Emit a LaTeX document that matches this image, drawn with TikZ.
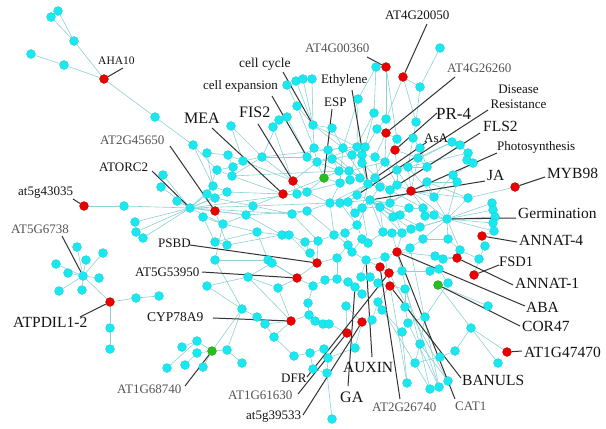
\documentclass[tikz,border=0pt]{standalone}
\usepackage{fontspec}
\setmainfont{Liberation Serif}
\definecolor{cyn}{RGB}{25,232,240}
\definecolor{edg}{RGB}{140,210,212}
\definecolor{rd}{RGB}{235,0,0}
\definecolor{gr}{RGB}{40,190,30}
\definecolor{lab}{RGB}{20,20,20}
\definecolor{labg}{RGB}{85,85,85}
\pgfdeclarelayer{bg}
\pgfdeclarelayer{mid}
\pgfsetlayers{bg,mid,main}
\tikzset{
 cy/.style={circle,fill=cyn,draw=cyn!85!black,line width=0.2pt,minimum size=9pt,inner sep=0pt},
 rn/.style={cy,fill=rd,draw=rd!70!black},
 gn/.style={cy,fill=gr,draw=gr!70!black},
 ed/.style={draw=edg,line width=0.6pt},
 ld/.style={draw=black!80,line width=1pt},
 sm/.style={font=\fontsize{13}{13}\selectfont,text=lab,inner sep=0pt,anchor=west},
 lg/.style={font=\fontsize{15.5}{15.5}\selectfont,text=lab,inner sep=0pt,anchor=west},
 gy/.style={text=labg},
}
\begin{document}
\begin{tikzpicture}[x=1pt,y=-1pt]
\useasboundingbox (0,0) rectangle (606,429);
\begin{pgfonlayer}{bg}
\fill[white] (0,0) rectangle (606,429);
\end{pgfonlayer}
% cyan nodes
\foreach \x/\y in {58/11, 51/17, 74/41, 31/54, 64/65, 155/117, 193/145,
163/175, 161/187, 177/201, 135/222, 136/232, 143/238, 124/206, 190/208,
83/276, 77/247, 103/253, 86/260, 56/264, 68/273, 99/278, 59/291, 82/290,
136/298, 159/296, 110/328, 110/349,
197/341, 197/353, 182/347, 185/365, 167/368, 203/367,
296/81, 303/79, 312/79, 287/85, 297/106, 287/117, 279/120, 273/127, 231/126, 313/125, 332/128,
376/67, 358/99, 374/113, 386/119, 377/129, 420/87, 440/48, 416/122, 413/138, 420/148, 397/139, 452/142, 460/145, 468/153, 467/160, 473/163, 453/175, 457/182,
207/153, 228/155, 243/161, 262/157, 233/167, 217/170, 232/176, 213/186, 227/192, 207/194, 215/198, 253/206, 246/215, 203/217, 223/224, 257/232, 292/214, 307/211, 297/194, 307/192, 215/242, 227/245, 282/235, 289/235, 215/260, 268/260, 272/263, 248/277, 207/286, 278/288,
314/148, 328/150, 343/148, 357/147, 365/147, 307/157, 317/162, 332/159, 352/155, 362/155, 375/157, 385/162, 362/163, 339/171, 349/171, 397/170, 408/167, 427/167, 418/158, 340/183, 350/180, 360/178, 368/184, 375/178, 380/187, 390/190, 397/185, 427/182, 434/197, 330/203, 340/203, 348/202, 357/195, 370/200, 390/203, 380/207, 362/208, 423/208, 434/215, 409/208, 400/215, 355/213, 393/217, 425/216, 447/219,
305/242, 318/241, 310/253, 334/235, 345/233, 357/225, 348/245, 352/252, 362/239, 368/243, 383/232, 392/233, 402/233, 411/229, 420/227, 423/239, 410/248, 435/256, 443/259, 430/271, 439/269, 448/283, 366/260, 385/257, 337/258, 313/286, 325/280, 337/279, 348/282, 355/287, 361/277, 370/277, 378/283, 362/294, 405/289, 402/271, 308/303, 346/306, 309/315, 315/321, 323/324, 329/324, 378/302, 382/310, 408/323, 425/317, 405/307,
242/309, 257/317, 265/324, 274/337, 227/350, 242/363, 294/356, 310/353, 324/349, 355/348, 328/358, 313/369, 327/373, 332/419, 372/320,
468/198, 492/203, 493/210, 495/217, 493/223, 494/231, 485/246, 479/259, 460/250, 448/239,
488/306, 471/328, 498/363, 455/351, 440/357, 415/363, 420/344, 402/332, 407/383, 448/381, 439/387, 430/389}
  \node[cy] (n\x-\y) at (\x,\y) {};
% red nodes
\foreach \x/\y in {104/79, 403/77, 386/67, 386/133, 395/150, 293/181, 283/194, 215/211, 84/206, 110/302, 317/263, 297/278, 291/321, 347/333, 362/322, 380/267, 389/273, 390/286, 397/252, 411/191, 515/187, 482/236, 457/258, 474/275, 507/352}
  \node[rn] (n\x-\y) at (\x,\y) {};
% green nodes
\foreach \x/\y in {324/178, 212/351, 438/285}
  \node[gn] (n\x-\y) at (\x,\y) {};
% edges
\begin{pgfonlayer}{bg}
\foreach \a/\b in {58-11/74-41, 51-17/74-41, 74-41/104-79, 31-54/64-65, 64-65/104-79, 104-79/155-117, 155-117/193-145, 193-145/217-170, 193-145/213-186,
84-206/124-206, 124-206/190-208,
190-208/163-175, 190-208/161-187, 190-208/177-201, 190-208/135-222, 190-208/136-232, 190-208/143-238, 190-208/213-186, 190-208/207-194, 190-208/227-192, 190-208/215-211, 190-208/253-206, 190-208/246-215, 190-208/292-214, 190-208/297-194, 190-208/223-224, 190-208/215-198,
83-276/77-247, 83-276/103-253, 83-276/86-260, 83-276/56-264, 83-276/68-273, 83-276/99-278, 83-276/59-291, 83-276/82-290, 83-276/110-302,
110-302/136-298, 136-298/159-296, 110-302/110-328, 110-328/110-349,
212-351/197-341, 212-351/197-353, 197-341/182-347, 197-341/167-368, 197-353/185-365, 212-351/203-367, 212-351/242-309, 212-351/227-350,
296-81/313-125, 303-79/313-125, 312-79/313-125, 287-85/297-106, 297-106/313-125, 297-106/314-148, 287-117/307-157, 279-120/262-157, 273-127/297-194, 231-126/262-157, 231-126/243-161, 313-125/314-148, 313-125/343-148, 313-125/357-147, 332-128/343-148, 332-128/313-125,
376-67/374-113, 376-67/358-99, 386-67/386-119, 386-67/397-139, 403-77/420-87, 420-87/440-48, 403-77/416-122, 420-87/416-122, 403-77/386-119, 358-99/357-147, 358-99/343-148, 374-113/365-147, 374-113/352-155, 386-119/377-129, 377-129/362-155, 386-133/375-157, 386-133/397-139, 386-133/385-162, 416-122/413-138, 413-138/420-148, 413-138/408-167, 397-139/385-162, 395-150/418-158, 395-150/397-170, 420-148/427-167, 452-142/460-145, 460-145/468-153, 468-153/467-160, 467-160/473-163, 452-142/418-158, 460-145/427-167, 473-163/453-175, 453-175/457-182, 457-182/427-182, 468-153/408-167, 452-142/397-170,
207-153/228-155, 228-155/243-161, 243-161/262-157, 262-157/307-157, 233-167/217-170, 217-170/232-176, 232-176/262-157, 233-167/243-161, 213-186/227-192, 207-194/215-198, 227-192/283-194, 215-198/253-206, 253-206/292-214, 246-215/223-224, 203-217/223-224, 223-224/257-232, 257-232/282-235, 246-215/307-211, 207-153/213-186, 228-155/233-167, 262-157/293-181, 293-181/307-192, 283-194/297-194, 283-194/253-206, 293-181/317-162, 232-176/283-194, 243-161/293-181, 217-170/207-194, 215-242/227-245, 227-245/282-235, 215-242/257-232, 215-260/268-260, 268-260/272-263, 272-263/297-278, 248-277/278-288, 207-286/248-277, 203-217/215-242, 215-211/246-215, 215-211/227-245, 223-224/215-260, 257-232/268-260, 248-277/272-263, 207-286/242-309,
314-148/328-150, 328-150/343-148, 343-148/357-147, 357-147/365-147, 314-148/317-162, 317-162/332-159, 332-159/352-155, 352-155/362-155, 362-155/375-157, 375-157/385-162, 307-157/317-162, 317-162/339-171, 332-159/349-171, 339-171/349-171, 349-171/360-178, 362-163/368-184, 362-155/362-163, 385-162/397-170, 397-170/408-167, 408-167/427-167, 418-158/427-167, 340-183/350-180, 350-180/360-178, 360-178/368-184, 368-184/380-187, 380-187/390-190, 390-190/397-185, 397-185/411-191, 411-191/427-182, 427-182/434-197, 411-191/434-197, 411-191/408-167, 411-191/397-170, 411-191/390-203, 411-191/423-208, 411-191/447-219, 411-191/468-198, 411-191/380-207,
368-184/343-148, 368-184/328-150, 368-184/357-147, 368-184/332-159, 368-184/385-162, 368-184/340-203, 368-184/330-203, 368-184/357-195, 368-184/390-190, 368-184/362-208, 368-184/375-178,
370-200/348-202, 370-200/357-195, 370-200/380-187, 370-200/390-203, 370-200/380-207, 370-200/362-208, 370-200/393-217, 370-200/402-233, 370-200/411-229, 370-200/383-232, 370-200/420-227, 370-200/355-213, 370-200/400-215, 370-200/409-208,
307-192/330-203, 307-192/324-178, 324-178/339-171, 324-178/340-183, 324-178/317-162, 297-194/307-192, 307-211/330-203, 292-214/307-211, 330-203/340-203, 340-203/348-202, 348-202/357-195, 340-183/330-203, 348-202/355-213, 355-213/362-208, 362-208/380-207, 380-207/390-203, 390-203/390-190, 400-215/409-208, 409-208/423-208, 423-208/434-215, 434-215/447-219, 393-217/400-215, 425-216/447-219,
447-219/492-203, 447-219/493-210, 447-219/495-217, 447-219/493-223, 447-219/494-231, 447-219/468-198, 447-219/425-216, 447-219/423-239, 447-219/420-227, 447-219/434-197, 447-219/448-239, 447-219/460-250, 468-198/515-187, 494-231/482-236, 482-236/485-246, 485-246/479-259, 479-259/460-250, 460-250/448-239, 448-239/423-239, 457-258/435-256, 457-258/443-259, 457-258/460-250, 474-275/479-259,
282-235/289-235, 289-235/305-242, 305-242/318-241, 318-241/334-235, 334-235/345-233, 345-233/357-225, 357-225/370-200, 357-225/362-239, 362-239/368-243, 368-243/383-232, 383-232/392-233, 392-233/402-233, 402-233/411-229, 411-229/420-227, 420-227/447-219, 310-253/317-263, 305-242/310-253, 317-263/337-258, 337-258/348-245, 348-245/352-252, 352-252/366-260, 366-260/380-267, 380-267/389-273, 389-273/402-271, 402-271/430-271, 430-271/439-269, 439-269/448-283, 448-283/438-285, 438-285/471-328, 438-285/488-306, 471-328/507-352, 471-328/498-363, 471-328/455-351, 455-351/440-357, 440-357/415-363, 397-252/385-257, 397-252/410-248, 410-248/423-239, 397-252/402-233, 397-252/435-256, 397-252/402-271, 397-252/392-233, 385-257/366-260, 366-260/361-277, 361-277/370-277, 370-277/378-283, 378-283/390-286, 390-286/405-289, 405-289/405-307, 405-307/408-323, 408-323/425-317, 425-317/448-283, 402-332/408-323, 420-344/425-317, 420-344/415-363, 378-302/382-310, 382-310/402-332, 378-302/390-286, 362-294/355-287, 355-287/348-282, 348-282/337-279, 337-279/325-280, 325-280/313-286, 313-286/297-278, 297-278/278-288, 313-286/308-303, 308-303/309-315, 309-315/315-321, 315-321/323-324, 323-324/329-324, 329-324/347-333, 346-306/362-322, 346-306/347-333, 362-322/372-320, 372-320/378-302, 347-333/355-348, 355-348/362-322, 355-348/328-358, 328-358/324-349, 324-349/310-353, 310-353/294-356, 294-356/274-337, 274-337/265-324, 265-324/257-317, 257-317/242-309, 242-309/227-350, 227-350/242-363, 291-321/265-324, 291-321/309-315, 291-321/274-337, 313-369/327-373, 327-373/332-419, 327-373/328-358, 313-369/310-353,
402-271/430-389, 405-289/439-387, 389-273/448-381, 385-257/407-383, 410-248/439-387, 402-332/407-383, 378-302/430-389, 420-344/448-381, 408-323/439-387,
297-278/317-263, 317-263/318-241, 268-260/297-278, 289-235/317-263, 337-258/337-279, 348-245/345-233, 352-252/362-239, 248-277/291-321, 278-288/291-321, 215-260/242-309,
262-157/343-148, 232-176/339-171, 253-206/330-203, 307-211/348-245, 292-214/318-241, 246-215/282-235, 297-194/340-183, 283-194/324-178, 317-162/357-147, 349-171/385-162, 340-203/357-225, 330-203/334-235, 362-208/368-243, 380-207/383-232, 390-203/402-233, 390-190/423-208, 427-182/468-198, 457-182/447-219, 453-175/434-197, 408-167/434-197, 385-162/397-185, 375-157/380-187, 357-147/350-180, 343-148/340-183, 328-150/339-171, 362-163/390-190, 418-158/411-191, 397-170/397-185, 307-157/314-148}
  \draw[ed] (n\a) -- (n\b);
\end{pgfonlayer}
% labels
\node[sm,font=\fontsize{11.5}{11.5}\selectfont] (lAHA) at (98,61) {AHA10};
\node[sm] (l4G20050) at (385,15) {AT4G20050};
\node[sm,gy] (l4G00360) at (305,48) {AT4G00360};
\node[sm,gy] (l4G26260) at (447,68) {AT4G26260};
\node[sm,anchor=center,align=center] (lDis) at (518.5,97) {Disease\\[2pt]Resistance};
\node[lg,font=\fontsize{17}{17}\selectfont] (lPR) at (436,114) {PR-4};
\node[lg] (lFLS) at (483,126) {FLS2};
\node[sm] (lAsA) at (424,138) {AsA};
\node[sm] (lPhoto) at (497,147) {Photosynthesis};
\node[lg] (lJA) at (487,175) {JA};
\node[lg] (lMYB) at (547,173) {MYB98};
\node[lg] (lGerm) at (518,213) {Germination};
\node[lg] (lANN4) at (519,240) {ANNAT-4};
\node[lg,font=\fontsize{14.5}{14.5}\selectfont] (lFSD) at (499,262) {FSD1};
\node[lg] (lANN1) at (515,283) {ANNAT-1};
\node[lg] (lABA) at (526,307) {ABA};
\node[lg] (lCOR) at (522,326) {COR47};
\node[lg] (l1G47470) at (524,352) {AT1G47470};
\node[lg] (lBAN) at (462,380) {BANULS};
\node[sm,gy] (lCAT) at (455,406) {CAT1};
\node[sm,gy] (l2G26740) at (372,407) {AT2G26740};
\node[lg] (lAUX) at (343,367) {AUXIN};
\node[lg,font=\fontsize{16}{16}\selectfont] (lGA) at (340,397) {GA};
\node[sm] (lDFR) at (281,378) {DFR};
\node[sm,gy] (l1G61630) at (228,395) {AT1G61630};
\node[sm] (l39533) at (246,417) {at5g39533};
\node[sm,gy] (l1G68740) at (117,389) {AT1G68740};
\node[sm,font=\fontsize{13.5}{13.5}\selectfont] (lCYP) at (147,317) {CYP78A9};
\node[sm] (l53950) at (135,272) {AT5G53950};
\node[sm] (lPSBD) at (158,243) {PSBD};
\node[lg] (lPDIL) at (13,322) {ATPDIL1-2};
\node[sm,gy] (l6738) at (11,229) {AT5G6738};
\node[sm] (l43035) at (18,193) {at5g43035};
\node[sm] (lORC) at (99,167) {ATORC2};
\node[sm,gy] (l45650) at (100,140) {AT2G45650};
\node[lg,font=\fontsize{16}{16}\selectfont] (lMEA) at (184,118) {MEA};
\node[lg,font=\fontsize{16}{16}\selectfont] (lFIS) at (239,112) {FIS2};
\node[sm,font=\fontsize{13.5}{13.5}\selectfont] (lcc) at (239,64) {cell cycle};
\node[sm] (lce) at (203,86) {cell expansion};
\node[sm] (lESP) at (324,102) {ESP};
\node[sm] (lEth) at (321,80) {Ethylene};
% leader start points
\coordinate (c-AHA) at (123,68);
\coordinate (c-4G20050) at (427,24);
\coordinate (c-4G00360) at (367,57);
\coordinate (c-4G26260) at (455,77);
\coordinate (c-Dis) at (488,110);
\coordinate (c-PR) at (437,113);
\coordinate (c-FLS) at (480,133);
\coordinate (c-AsA) at (427,142);
\coordinate (c-Photo) at (497,153);
\coordinate (c-JA) at (485,181);
\coordinate (c-MYB) at (545,177);
\coordinate (c-Germ) at (516,218);
\coordinate (c-ANN4) at (517,242);
\coordinate (c-FSD) at (499,265);
\coordinate (c-ANN1) at (513,285);
\coordinate (c-ABA) at (525,306);
\coordinate (c-COR) at (520,326);
\coordinate (c-1G47470) at (522,351);
\coordinate (c-BAN) at (461,378);
\coordinate (c-CAT) at (455,399);
\coordinate (c-2G26740) at (400,399);
\coordinate (c-AUX) at (372,357);
\coordinate (c-GA) at (348,386);
\coordinate (c-DFR) at (307,377);
\coordinate (c-1G61630) at (298,394);
\coordinate (c-39533) at (303,415);
\coordinate (c-1G68740) at (185,386);
\coordinate (c-CYP) at (213,318);
\coordinate (c-53950) at (202,272);
\coordinate (c-PSBD) at (190,245);
\coordinate (c-PDIL) at (80,317);
\coordinate (c-6738) at (62,236);
\coordinate (c-43035) at (73,199);
\coordinate (c-ORC) at (152,171);
\coordinate (c-45650) at (170,146);
\coordinate (c-MEA) at (212,128);
\coordinate (c-FIS) at (258,124);
\coordinate (c-cc) at (283,72);
\coordinate (c-ce) at (272,96);
\coordinate (c-ESP) at (332,109);
\coordinate (c-Eth) at (352,90);
\begin{pgfonlayer}{mid}
\foreach \c/\n in {AHA/104-79, 4G20050/403-77, 4G00360/386-67, 4G26260/386-133, Dis/357-195, PR/395-150, FLS/390-190, AsA/375-178, Photo/411-191, JA/370-200, MYB/515-187, Germ/447-219, ANN4/482-236, FSD/474-275, ANN1/457-258, ABA/397-252, COR/438-285, 1G47470/507-352, BAN/390-286, CAT/397-252, 2G26740/380-267, AUX/366-260, GA/355-287, DFR/389-273, 1G61630/347-333, 39533/362-322, 1G68740/212-351, CYP/291-321, 53950/297-278, PSBD/317-263, PDIL/110-302, 6738/83-276, 43035/84-206, ORC/190-208, 45650/215-211, MEA/283-194, FIS/293-181, cc/313-125, ce/307-157, ESP/324-178, Eth/368-184}
  \draw[ld] (c-\c) -- (n\n);
\end{pgfonlayer}
\end{tikzpicture}
\end{document}
